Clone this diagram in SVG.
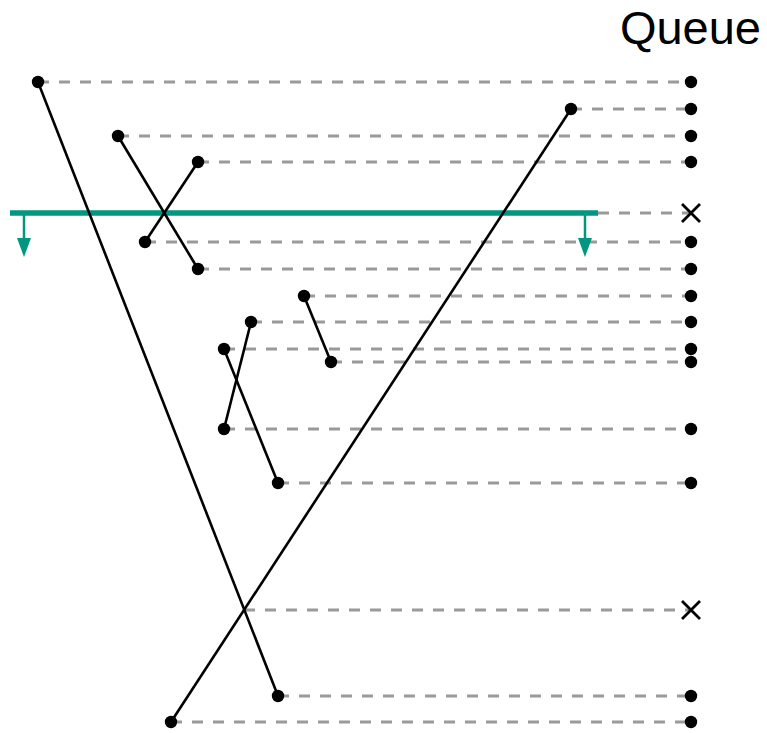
<svg xmlns="http://www.w3.org/2000/svg" width="767" height="733" viewBox="0 0 767 733">
<style>
.d{stroke:#9a9a9a;stroke-width:3;stroke-dasharray:11 10;fill:none}
.s{stroke:#000;stroke-width:2.6;fill:none}
.t{stroke:#00967f;fill:none}
.p{fill:#000}
.x{stroke:#000;stroke-width:2.8;fill:none}
text{font-family:"Liberation Sans",Arial,sans-serif;fill:#000}
</style>
<defs>
<marker id="ah" markerWidth="20" markerHeight="14" refX="0" refY="7" orient="auto" markerUnits="userSpaceOnUse" viewBox="0 0 20 14">
<path d="M0,0 L19,7 L0,14 Z" fill="#00967f"/>
</marker>
</defs>
<rect width="767" height="733" fill="#fff"/>
<text x="761" y="44" font-size="47" text-anchor="end">Queue</text>
<g id="connectors">
<g id="dashes">
<line class="d" x1="38" y1="82" x2="691" y2="82"/>
<line class="d" x1="571" y1="109" x2="691" y2="109"/>
<line class="d" x1="118" y1="136" x2="691" y2="136"/>
<line class="d" x1="198" y1="162" x2="691" y2="162"/>
<line class="d" x1="598" y1="213" x2="691" y2="213"/>
<line class="d" x1="145" y1="242" x2="691" y2="242"/>
<line class="d" x1="198" y1="269" x2="691" y2="269"/>
<line class="d" x1="304" y1="296" x2="691" y2="296"/>
<line class="d" x1="251" y1="322" x2="691" y2="322"/>
<line class="d" x1="224" y1="349" x2="691" y2="349"/>
<line class="d" x1="331" y1="362" x2="691" y2="362"/>
<line class="d" x1="224" y1="429" x2="691" y2="429"/>
<line class="d" x1="278" y1="483" x2="691" y2="483"/>
<line class="d" x1="244" y1="610" x2="691" y2="610"/>
<line class="d" x1="278" y1="696" x2="691" y2="696"/>
<line class="d" x1="171" y1="722" x2="691" y2="722"/>
</g>
<g id="cut">
<line class="t" stroke-width="5.5" x1="10" y1="213" x2="598" y2="213"/>
<line class="t" stroke-width="2.5" x1="24" y1="213" x2="24" y2="238" marker-end="url(#ah)"/>
<line class="t" stroke-width="2.5" x1="585" y1="213" x2="585" y2="238" marker-end="url(#ah)"/>
</g>
<g id="segments">
<line class="s" x1="38" y1="82" x2="278" y2="696"/>
<line class="s" x1="571" y1="109" x2="171" y2="722"/>
<line class="s" x1="118" y1="136" x2="198" y2="269"/>
<line class="s" x1="198" y1="162" x2="145" y2="242"/>
<line class="s" x1="304" y1="296" x2="331" y2="362"/>
<line class="s" x1="251" y1="322" x2="224" y2="429"/>
<line class="s" x1="224" y1="349" x2="278" y2="483"/>
</g>
</g>
<g id="endpoints">
<circle class="p" cx="38" cy="82" r="6.2"/>
<circle class="p" cx="278" cy="696" r="6.2"/>
<circle class="p" cx="571" cy="109" r="6.2"/>
<circle class="p" cx="171" cy="722" r="6.2"/>
<circle class="p" cx="118" cy="136" r="6.2"/>
<circle class="p" cx="198" cy="269" r="6.2"/>
<circle class="p" cx="198" cy="162" r="6.2"/>
<circle class="p" cx="145" cy="242" r="6.2"/>
<circle class="p" cx="304" cy="296" r="6.2"/>
<circle class="p" cx="331" cy="362" r="6.2"/>
<circle class="p" cx="251" cy="322" r="6.2"/>
<circle class="p" cx="224" cy="429" r="6.2"/>
<circle class="p" cx="224" cy="349" r="6.2"/>
<circle class="p" cx="278" cy="483" r="6.2"/>
</g>
<g id="queue">
<circle class="p" cx="691" cy="82" r="6.2"/>
<circle class="p" cx="691" cy="109" r="6.2"/>
<circle class="p" cx="691" cy="136" r="6.2"/>
<circle class="p" cx="691" cy="162" r="6.2"/>
<path class="x" d="M682,204 L700,222 M700,204 L682,222"/>
<circle class="p" cx="691" cy="242" r="6.2"/>
<circle class="p" cx="691" cy="269" r="6.2"/>
<circle class="p" cx="691" cy="296" r="6.2"/>
<circle class="p" cx="691" cy="322" r="6.2"/>
<circle class="p" cx="691" cy="349" r="6.2"/>
<circle class="p" cx="691" cy="362" r="6.2"/>
<circle class="p" cx="691" cy="429" r="6.2"/>
<circle class="p" cx="691" cy="483" r="6.2"/>
<path class="x" d="M682,601 L700,619 M700,601 L682,619"/>
<circle class="p" cx="691" cy="696" r="6.2"/>
<circle class="p" cx="691" cy="722" r="6.2"/>
</g>
</svg>
